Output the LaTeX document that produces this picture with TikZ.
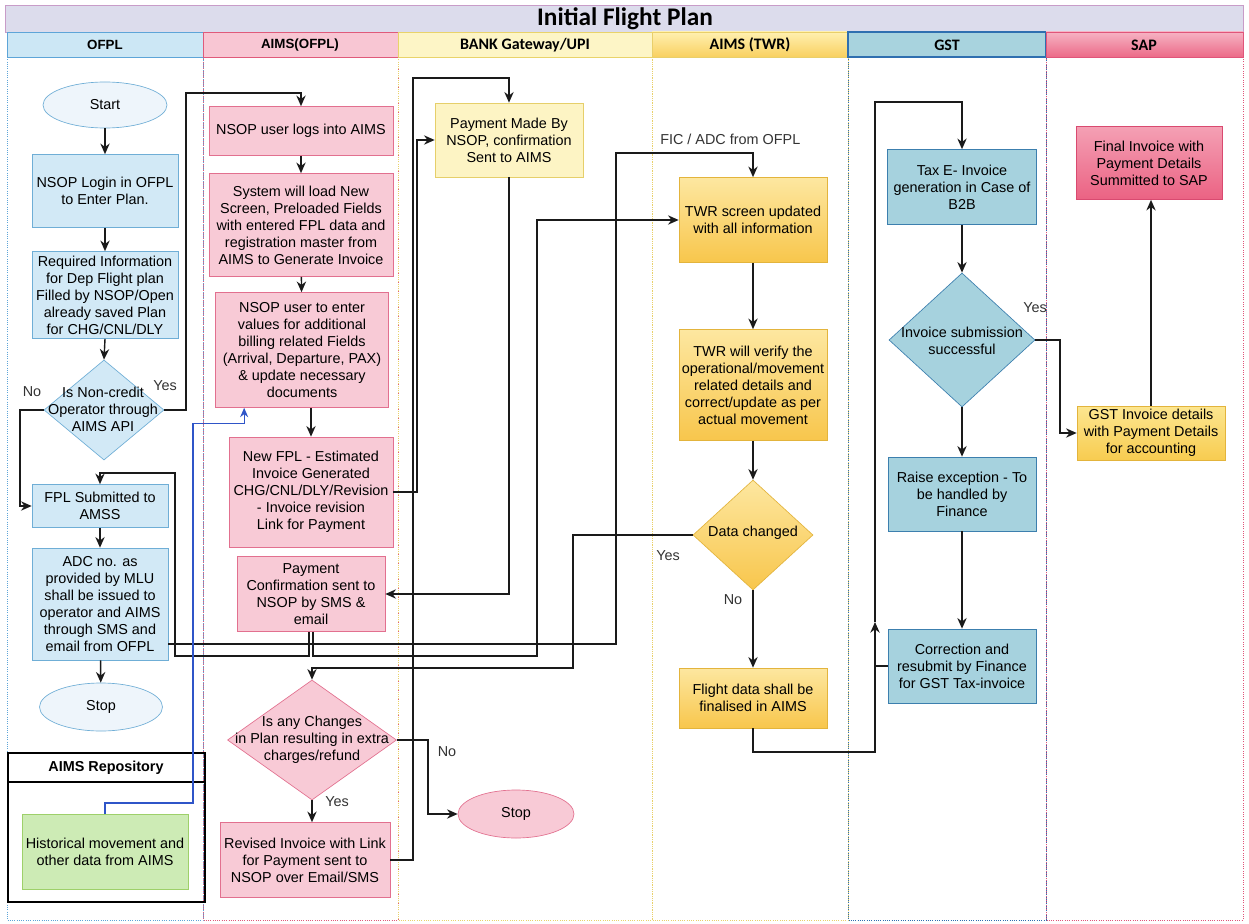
\documentclass[tikz,border=0pt]{standalone}
\usepackage{fontspec}
\setmainfont{Liberation Sans}
\newfontfamily\calib{Carlito}
\usetikzlibrary{shapes.geometric,arrows.meta,calc}
\definecolor{ofplF}{HTML}{D2E9F6}\definecolor{ofplD}{HTML}{6FAED6}\definecolor{startF}{HTML}{EEF5FB}
\definecolor{aimsF}{HTML}{F8CAD6}\definecolor{aimsD}{HTML}{E2708F}
\definecolor{bankF}{HTML}{FDF4C4}\definecolor{bankD}{HTML}{E6CF6A}
\definecolor{twrT}{HTML}{FDE7A0}\definecolor{twrB}{HTML}{F8C64C}\definecolor{twrD}{HTML}{E3B43C}
\definecolor{gstF}{HTML}{A6D2DE}\definecolor{gstD}{HTML}{3C7FAE}
\definecolor{sapT}{HTML}{F4A0B4}\definecolor{sapB}{HTML}{EB6283}\definecolor{sapD}{HTML}{D94A70}
\definecolor{ginvT}{HTML}{FCE690}\definecolor{ginvB}{HTML}{F8CC50}
\definecolor{greenF}{HTML}{CDEBB5}\definecolor{greenD}{HTML}{9ED06A}
\definecolor{titleF}{HTML}{DCDCEC}\definecolor{titleD}{HTML}{C89CC8}
\definecolor{ofplH}{HTML}{CCE7F5}\definecolor{aimsH}{HTML}{F8C6D3}\definecolor{bankH}{HTML}{FDF5C6}
\definecolor{twrHT}{HTML}{FFF0B0}\definecolor{twrHB}{HTML}{F9D060}\definecolor{gstH}{HTML}{A8D3DE}
\definecolor{sapHT}{HTML}{F6B3C3}\definecolor{sapHB}{HTML}{EC6A88}
\definecolor{ofplL}{HTML}{5DA5D8}\definecolor{aimsL}{HTML}{E05A7A}\definecolor{bankL}{HTML}{E9D36A}
\definecolor{twrL}{HTML}{E9CF6A}\definecolor{gstL}{HTML}{2F6FB0}\definecolor{sapL}{HTML}{E0557A}
\definecolor{lineC}{HTML}{1A1A1A}\definecolor{blueC}{HTML}{2F55C8}
\newcommand\fs{\fontsize{10.8}{12.8}\selectfont}
\newcommand\hfa{\fontsize{10}{12}\selectfont\bfseries}
\newcommand\hfc{\calib\fontsize{12}{14}\selectfont\bfseries}
\begin{document}
\begin{tikzpicture}[x=0.75pt,y=-0.75pt,
  every node/.style={font=\fs},
  sz/.style 2 args={minimum width=#1*0.75pt, minimum height=#2*0.75pt},
  box/.style={rectangle, draw, align=center, inner sep=1pt, line width=0.5pt},
  ofplbox/.style={box, fill=ofplF, draw=ofplD},
  aimsbox/.style={box, fill=aimsF, draw=aimsD},
  bankbox/.style={box, fill=bankF, draw=bankD},
  twrbox/.style={box, top color=twrT, bottom color=twrB, draw=twrD},
  gstbox/.style={box, fill=gstF, draw=gstD},
  sapbox/.style={box, top color=sapT, bottom color=sapB, draw=sapD},
  ginvbox/.style={box, top color=ginvT, bottom color=ginvB, draw=twrD},
  greenbox/.style={box, fill=greenF, draw=greenD},
  dia/.style={diamond, draw, inner sep=0pt, line width=0.5pt},
  diat/.style={align=center, inner sep=0pt},
  lbl/.style={inner sep=0pt, text=black!80},
  arr/.style={draw=lineC, line width=1.05pt, -{Stealth[length=8pt,width=7pt]}},
  ln/.style={draw=lineC, line width=1.05pt},
  lanebody/.style={densely dotted, line width=0.7pt},
]
\useasboundingbox (0,0) rectangle (1249,924);
\fill[white] (0,0) rectangle (1249,924);
% title
\draw[fill=titleF, draw=titleD, line width=0.6pt] (5,5) rectangle (1243,32);
\node[font=\calib\fontsize{19}{21}\selectfont\bfseries] (title) at (625,19) {Initial Flight Plan};
% lane bodies
\draw[lanebody, draw=ofplL] (7,57) rectangle (203,920);
\draw[lanebody, draw=aimsL] (203,57) rectangle (398,920);
\draw[lanebody, draw=bankL] (398,57) rectangle (652,920);
\draw[lanebody, draw=twrL] (652,57) rectangle (848,920);
\draw[lanebody, draw=gstL] (848,57) rectangle (1046,920);
\draw[lanebody, draw=sapL] (1046,57) rectangle (1243,920);
% lane headers
\draw[fill=ofplH, draw=ofplL, line width=0.6pt] (7,32) rectangle (203,57);
\draw[fill=aimsH, draw=aimsL, line width=0.6pt] (203,32) rectangle (398,57);
\draw[fill=bankH, draw=bankL, line width=0.6pt] (398,32) rectangle (652,57);
\draw[top color=twrHT, bottom color=twrHB, draw=twrL, line width=0.6pt] (652,32) rectangle (848,57);
\draw[fill=gstH, draw=gstL, line width=0.8pt] (848,32) rectangle (1046,57);
\draw[top color=sapHT, bottom color=sapHB, draw=sapL, line width=0.6pt] (1046,32) rectangle (1243,57);
\node[font=\hfa] (hofpl) at (105,45) {OFPL};
\node[font=\hfa] (haims) at (300,45) {AIMS(OFPL)};
\node[font=\hfc] (hbank) at (525,45) {BANK Gateway/UPI};
\node[font=\hfc] (htwr) at (750,45) {AIMS (TWR)};
\node[font=\hfc] (hgst) at (947,45) {GST};
\node[font=\hfc] (hsap) at (1144,45) {SAP};
% AIMS repository
\draw[line width=1.1pt] (8,753) rectangle (205,902);
\draw[line width=1.1pt] (8,782) -- (205,782);
\node[font=\fontsize{10.8}{13}\selectfont\bfseries] (repot) at (106,768) {AIMS Repository};
% OFPL nodes
\node[ofplbox, ellipse, fill=startF, sz={124}{46}] (start) at (105,105) {Start};
\node[ofplbox, sz={146}{73}] (login) at (105,191) {NSOP Login in OFPL\\to Enter Plan.};
\node[ofplbox, sz={146}{87}] (req) at (105,295) {Required Information\\for Dep Flight plan\\Filled by NSOP/Open\\already saved Plan\\for CHG/CNL/DLY};
\node[dia, fill=ofplF, draw=ofplD, sz={120}{100}] (dec1) at (104,410) {};
\node[diat] (dec1t) at (103,409) {Is Non-credit\\Operator through\\AIMS API};
\node[ofplbox, sz={136}{43}] (fpl) at (100,506) {FPL Submitted to\\AMSS};
\node[ofplbox, sz={136}{112}] (adc) at (100,604) {ADC no. as\\provided by MLU\\shall be issued to\\operator and AIMS\\through SMS and\\email from OFPL};
\node[ofplbox, ellipse, fill=startF, sz={123}{48}] (stop1) at (101,707) {Stop};
\node[greenbox, sz={166}{75}] (hist) at (105,852) {Historical movement and\\other data from AIMS};
% AIMS(OFPL) nodes
\node[aimsbox, sz={184}{49}] (logs) at (301,131) {NSOP user logs into AIMS};
\node[aimsbox, sz={184}{103}] (sys) at (301,225) {System will load New\\Screen, Preloaded Fields\\with entered FPL data and\\registration master from\\AIMS to Generate Invoice};
\node[aimsbox, sz={173}{115}] (enter) at (302,350) {NSOP user to enter\\values for additional\\billing related Fields\\(Arrival, Departure, PAX)\\\& update necessary\\documents};
\node[aimsbox, sz={164}{110}] (newfpl) at (311,492) {New FPL - Estimated\\Invoice Generated\\CHG/CNL/DLY/Revision\\- Invoice revision\\Link for Payment};
\node[aimsbox, sz={148}{75}] (paycon) at (311,594) {Payment\\Confirmation sent to\\NSOP by SMS \&\\email};
\node[dia, fill=aimsF, draw=aimsD, sz={169}{120}] (dec2) at (312,740) {};
\node[diat] (dec2t) at (312,740) {Is any Changes\\in Plan resulting in extra\\charges/refund};
\node[aimsbox, sz={170}{75}] (revised) at (305,860) {Revised Invoice with Link\\for Payment sent to\\NSOP over Email/SMS};
% Bank nodes
\node[bankbox, sz={148}{74}] (paymade) at (509,140) {Payment Made By\\NSOP, confirmation\\Sent to AIMS};
\node[aimsbox, ellipse, sz={116}{48}] (stop2) at (516,814) {Stop};
% TWR nodes
\node[twrbox, sz={148}{85}] (twr1) at (753,220) {TWR screen updated\\with all information};
\node[twrbox, sz={148}{111}] (twr2) at (753,385) {TWR will verify the\\operational/movement\\related details and\\correct/update as per\\actual movement};
\node[dia, top color=twrT, bottom color=twrB, draw=twrD, sz={120}{110}] (dec3) at (753,535) {};
\node[diat] (dec3t) at (753,533) {Data changed};
\node[twrbox, sz={148}{60}] (final) at (753,698) {Flight data shall be\\finalised in AIMS};
% GST nodes
\node[gstbox, sz={149}{75}] (tax) at (962,187) {Tax E- Invoice\\generation in Case of\\B2B};
\node[dia, fill=gstF, draw=gstD, sz={146}{134}] (dec4) at (962,340) {};
\node[diat] (dec4t) at (962,341) {Invoice submission\\successful};
\node[gstbox, sz={148}{74}] (raise) at (962,494) {Raise exception - To\\be handled by\\Finance};
\node[gstbox, sz={148}{74}] (corr) at (962,666) {Correction and\\resubmit by Finance\\for GST Tax-invoice};
% SAP nodes
\node[sapbox, sz={146}{73}] (sap) at (1149,163) {Final Invoice with\\Payment Details\\Summitted to SAP};
\node[ginvbox, sz={148}{54}] (gstinv) at (1151,433) {GST Invoice details\\with Payment Details\\for accounting};
% labels
\node[lbl] (lno1) at (32,392) {No};
\node[lbl] (lyes1) at (165,386) {Yes};
\node[lbl] (lyes2) at (337,802) {Yes};
\node[lbl] (lno2) at (447,752) {No};
\node[lbl, anchor=west] (lfic) at (660,139) {FIC / ADC from OFPL};
\node[lbl] (lyes3) at (668,556) {Yes};
\node[lbl] (lno3) at (733,600) {No};
\node[lbl] (lyes4) at (1035,308) {Yes};
% named coordinates
\coordinate (entb) at ([xshift=21.75pt]enter.south west);
\coordinate (jn) at (875,622);
% OFPL connectors
\draw[arr] (start) -- (login);
\draw[arr] (login) -- (req);
\draw[arr] (req.south) -- (dec1.north);
\draw[arr] (dec1.east) -| (186,93) -| (logs.north);
\draw[arr] (dec1.west) -| (20,506) -- (fpl.west);
\draw[arr] (fpl) -- (adc);
\draw[arr] (adc) -- (stop1);
% AIMS(OFPL) connectors
\draw[arr] (logs) -- (sys);
\draw[arr] (sys) -- (enter);
\draw[arr] (newfpl.north |- enter.south) -- (newfpl.north);
\draw[arr] (newfpl.east) -| (417,140) -- (paymade.west);
\draw[arr] (revised.east) -| (413,78) -| (paymade.north);
\draw[arr] (paymade.south) |- (paycon.east);
\draw[arr] ([xshift=-1.5pt]paycon.south) |- (175,656) |- (100,473) -- (fpl.north);
\draw[arr] ([xshift=1.5pt]paycon.south) |- (537,656) |- (twr1.west);
\draw[arr] ([yshift=-30pt]adc.east) -| (616,153) -| (twr1.north);
\draw[arr] (dec2.south) -- (dec2.south |- revised.north);
\draw[arr] (dec2.east) -| (428,814) -- (stop2.west);
\draw[draw=blueC, line width=0.8pt, -{Stealth[length=7pt,width=6pt]}] (hist.north) |- (193,803) |- ([yshift=-12pt]entb) -- (entb);
% TWR connectors
\draw[arr] (twr1) -- (twr2);
\draw[arr] (twr2) -- (dec3.north);
\draw[arr] (dec3.south) -- (final.north);
\draw[arr] (dec3.west) -| (573,668) -| (dec2.north);
\draw[arr] (final.south) |- (875,752) -- (jn);
\draw[arr] (jn) |- (962,102) -- (tax.north);
% GST connectors
\draw[arr] (tax) -- (dec4.north);
\draw[arr] (dec4.south) -- (raise);
\draw[arr] (raise) -- (corr);
\draw[ln] (corr.west) -- (corr.west -| jn);
\draw[arr] (dec4.east) -| (1060,433) -- (gstinv.west);
\draw[arr] (gstinv.north) -- (gstinv.north |- sap.south);
\end{tikzpicture}
\end{document}
